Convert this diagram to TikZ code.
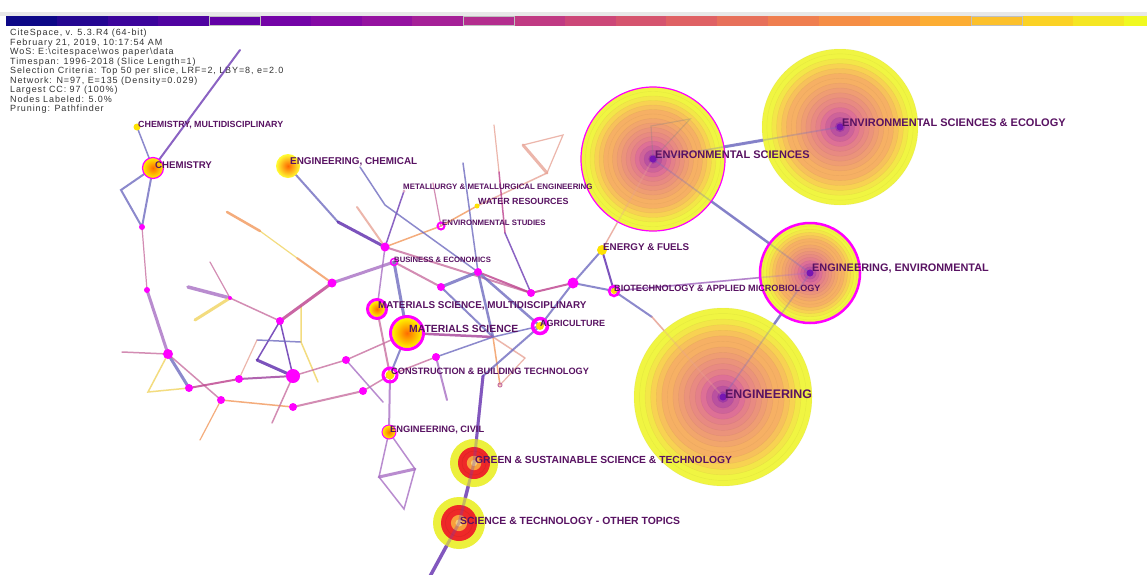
\documentclass[tikz,border=0pt]{standalone}
\usepackage{fontspec}
\setmainfont{Liberation Sans}
\newfontfamily\legendfont[LetterSpace=10]{Liberation Sans}

\definecolor{lblcol}{RGB}{88,18,98}
\definecolor{dotcol}{RGB}{255,0,255}
\definecolor{edpur}{RGB}{110,60,180}
\definecolor{edblu}{RGB}{112,108,192}
\definecolor{edmau}{RGB}{168,112,196}
\definecolor{edpnk}{RGB}{200,112,160}
\definecolor{edmag}{RGB}{188,64,140}
\definecolor{edorg}{RGB}{242,152,92}
\definecolor{edsal}{RGB}{232,164,150}
\definecolor{edyel}{RGB}{240,212,96}
\definecolor{eddk}{RGB}{92,40,172}
% year colours of the time bar
\definecolor{pl0}{RGB}{13,8,135}
\definecolor{pl1}{RGB}{65,4,157}
\definecolor{pl2}{RGB}{106,0,168}
\definecolor{pl3}{RGB}{143,13,164}
\definecolor{pl4}{RGB}{177,42,144}
\definecolor{pl5}{RGB}{204,71,120}
\definecolor{pl6}{RGB}{225,100,98}
\definecolor{pl7}{RGB}{242,132,75}
\definecolor{pl8}{RGB}{252,166,54}
\definecolor{pl9}{RGB}{252,206,37}
\definecolor{pl10}{RGB}{240,249,33}
% tree rings
\definecolor{ryel}{RGB}{240,245,66}
\definecolor{rgld}{RGB}{248,210,82}
\definecolor{rorg}{RGB}{246,176,100}
\definecolor{rpnk}{RGB}{222,112,150}
\definecolor{rpur}{RGB}{118,22,178}
\colorlet{rc0}{ryel}
\colorlet{rc1}{ryel}
\colorlet{rc2}{ryel!60!rgld}
\colorlet{rc3}{rgld}
\colorlet{rc4}{rgld!50!rorg}
\colorlet{rc5}{rorg}
\colorlet{rc6}{rorg}
\colorlet{rc7}{rorg!85!rpnk}
\colorlet{rc8}{rorg!70!rpnk}
\colorlet{rc9}{rorg!55!rpnk}
\colorlet{rc10}{rorg!40!rpnk}
\colorlet{rc11}{rorg!25!rpnk}
\colorlet{rc12}{rpnk}
\colorlet{rc13}{rpnk!85!rpur}
\colorlet{rc14}{rpnk!65!rpur}
\colorlet{rc15}{rpnk!40!rpur}
\definecolor{gyel}{RGB}{236,240,60}
\definecolor{gred}{RGB}{238,40,40}
\definecolor{gorg}{RGB}{248,160,60}
\definecolor{gctr}{RGB}{246,206,120}

\begin{document}
\begin{tikzpicture}[x=1pt,y=-1pt,
    ed/.style={line width=1.5pt, opacity=0.8, line cap=round},
    w1/.style={line width=1.2pt},
    w2/.style={line width=2pt},
    w3/.style={line width=3pt},
    ghost/.style={line width=1.6pt, opacity=0.3},
    lbl/.style={anchor=west, inner sep=0pt, text=lblcol, font=\bfseries\fontsize{#1}{#1}\selectfont}]
  \useasboundingbox (0,0) rectangle (1147,574);
  \fill[white] (0,0) rectangle (1147,574);

  % time bar
  \fill[black!9] (0,12) rectangle (1147,16);
  \foreach \k in {0,...,22}{
    \pgfmathsetmacro\tt{\k*10/22}
    \pgfmathtruncatemacro\ii{floor(\tt)}
    \pgfmathtruncatemacro\jj{min(\ii+1,10)}
    \pgfmathtruncatemacro\ff{round(100*(1-(\tt-\ii)))}
    \fill[fill={pl\ii!\ff!pl\jj}] ({6+\k*50.8},16) rectangle ({6+(\k+1)*50.8},26);
  }
  \foreach \k in {4,9,19}
    \draw[black!25, line width=0.8pt] ({6+\k*50.8},16.5) rectangle ({6+(\k+1)*50.8},25.5);

  \node[anchor=north west, inner sep=0pt, align=left, text=black!80,
        font=\legendfont\fontsize{9}{9.5}\selectfont] (legend) at (10,29)
    {CiteSpace, v. 5.3.R4 (64-bit)\\
     February 21, 2019, 10:17:54 AM\\
     WoS: E:\textbackslash citespace\textbackslash wos paper\textbackslash data\\
     Timespan: 1996-2018 (Slice Length=1)\\
     Selection Criteria: Top 50 per slice, LRF=2, LBY=8, e=2.0\\
     Network: N=97, E=135 (Density=0.029)\\
     Largest CC: 97 (100\%)\\
     Nodes Labeled: 5.0\%\\
     Pruning: Pathfinder};

  % labelled nodes
  \coordinate (envsci) at (653,159);
  \coordinate (envecol) at (840,127);
  \coordinate (engenv) at (810,273);
  \coordinate (eng) at (723,397);
  \coordinate (green) at (474,463);
  \coordinate (scitech) at (459,523);
  \coordinate (matsci) at (407,333);
  \coordinate (matmul) at (377,309);
  \coordinate (chem) at (153,168);
  \coordinate (chemmul) at (137,127);
  \coordinate (engchem) at (288,166);
  \coordinate (metal) at (404,191);
  \coordinate (water) at (477,206);
  \coordinate (envstud) at (441,226);
  \coordinate (busi) at (394,262);
  \coordinate (agri) at (540,326);
  \coordinate (constr) at (390,375);
  \coordinate (civil) at (389,432);
  \coordinate (energy) at (602,250);
  \coordinate (biotech) at (614,291);
  % unlabelled nodes
  \coordinate (a1) at (142,227);
  \coordinate (a2) at (147,290);
  \coordinate (a3) at (168,354);
  \coordinate (a4) at (189,388);
  \coordinate (a5) at (239,379);
  \coordinate (a6) at (293,376);
  \coordinate (a7) at (280,321);
  \coordinate (a8) at (332,283);
  \coordinate (a9) at (385,247);
  \coordinate (a10) at (441,287);
  \coordinate (a11) at (478,272);
  \coordinate (a12) at (531,293);
  \coordinate (a13) at (573,283);
  \coordinate (a14) at (346,360);
  \coordinate (a15) at (363,391);
  \coordinate (a16) at (221,400);
  \coordinate (a17) at (293,407);
  \coordinate (a18) at (436,357);
  \coordinate (a19) at (230,298);
  % small end points
  \coordinate (b1) at (240,50);
  \coordinate (b2) at (121,190);
  \coordinate (b3) at (122,352);
  \coordinate (b4) at (148,392);
  \coordinate (b5) at (257,360);
  \coordinate (b6) at (257,340);
  \coordinate (b7) at (301,342);
  \coordinate (b8) at (301,306);
  \coordinate (b9) at (318,382);
  \coordinate (b11) at (210,262);
  \coordinate (b12) at (195,320);
  \coordinate (b13) at (188,287);
  \coordinate (b14) at (227,212);
  \coordinate (b15) at (260,231);
  \coordinate (b16) at (297,258);
  \coordinate (b17) at (200,440);
  \coordinate (b18) at (272,423);
  \coordinate (b19) at (383,402);
  \coordinate (b20) at (338,222);
  \coordinate (b21) at (360,167);
  \coordinate (b22) at (385,205);
  \coordinate (b23) at (357,207);
  \coordinate (b24) at (433,183);
  \coordinate (b25) at (463,163);
  \coordinate (b26) at (547,173);
  \coordinate (b27) at (523,145);
  \coordinate (b28) at (563,135);
  \coordinate (b29) at (494,125);
  \coordinate (b30) at (499,172);
  \coordinate (b31) at (505,233);
  \coordinate (b32) at (493,337);
  \coordinate (b33) at (500,385);
  \coordinate (b34) at (525,358);
  \coordinate (b35) at (483,376);
  \coordinate (b36) at (447,400);
  \coordinate (b37) at (379,477);
  \coordinate (b38) at (415,469);
  \coordinate (b39) at (404,509);
  \coordinate (b40) at (428,580);
  \coordinate (b41) at (652,317);
  \coordinate (b42) at (651,126);
  \coordinate (b43) at (690,119);

  % links
  \draw[ed, edpur, w2] (b1) -- (chem);
  \draw[ed, edblu] (chemmul) -- (chem);
  \draw[ed, edblu, w2] (chem) -- (b2) -- (a1) -- (chem);
  \draw[ed, edpnk, w1] (a1) -- (a2);
  \draw[ed, edmau, w3] (a2) -- (a3);
  \draw[ed, edblu, w3] (a3) -- (a4);
  \draw[ed, edpnk] (a3) -- (b3);
  \draw[ed, edyel] (a3) -- (b4) -- (a4);
  \draw[ed, edpnk] (a3) -- (a16);
  \draw[ed, edmag, w2] (a4) -- (a5);
  \draw[ed, edmag!60!edpur, w2] (a5) -- (a6);
  \draw[ed, eddk, w3] (a6) -- (b5);
  \draw[ed, eddk] (b5) -- (a7) -- (a6);
  \draw[ed, edblu] (b6) -- (b7);
  \draw[ed, edyel] (b8) -- (b7) -- (b9);
  \draw[ed, edsal, w1] (b6) -- (a5);
  \draw[ed, edpnk] (a6) -- (a14);
  \draw[ed, edorg] (a16) -- (a17);
  \draw[ed, edorg, w1] (a16) -- (b17);
  \draw[ed, edpnk] (a6) -- (b18);
  \draw[ed, edpnk, w2] (a17) -- (a15);
  \draw[ed, edpnk] (a15) -- (constr);
  \draw[ed, edpnk] (a14) -- (matsci);
  \draw[ed, edmau] (a14) -- (b19);
  \draw[ed, edpnk, w1] (a19) -- (b11);
  \draw[ed, edmau, line width=3.5pt] (a19) -- (b13);
  \draw[ed, edyel, w3] (a19) -- (b12);
  \draw[ed, edpnk] (a19) -- (a7);
  \draw[ed, edmag, w3] (a7) -- (a8);
  \draw[ed, edorg, w2] (a8) -- (b16);
  \draw[ed, edyel, w1] (b16) -- (b15);
  \draw[ed, edorg, line width=2.5pt] (b15) -- (b14);
  \draw[ed, edmau, w3] (a8) -- (busi);
  \draw[ed, edblu, w2] (engchem) -- (b20);
  \draw[ed, eddk, w3] (b20) -- (a9);
  \draw[ed, edsal, w2] (b23) -- (a9);
  \draw[ed, edpur] (metal) -- (a9);
  \draw[ed, edmau] (a9) -- (matmul);
  \draw[ed, edorg] (a9) -- (envstud) -- (water);
  \draw[ed, edsal] (water) -- (b26);
  \draw[ed, edsal, w3] (b26) -- (b27);
  \draw[ed, edsal, w1] (b27) -- (b28) -- (b26);
  \draw[ed, edpnk, w1] (b24) -- (envstud);
  \draw[ed, edblu] (b21) -- (b22) -- (a11);
  \draw[ed, edpnk, w2] (a9) -- (a12);
  \draw[ed, edpnk, w2] (busi) -- (a10);
  \draw[ed, edblu, w3] (busi) -- (matsci);
  \draw[ed, edblu, w3] (a10) -- (a11);
  \draw[ed, edblu, w2] (a10) -- (b32);
  \draw[ed, edblu, line width=2.5pt] (a11) -- (b32);
  \draw[ed, edblu] (b25) -- (a11);
  \draw[ed, edsal, w1] (b29) -- (b30);
  \draw[ed, edmag] (b30) -- (b31);
  \draw[ed, edpur] (b31) -- (a12);
  \draw[ed, edmag, w2] (a11) -- (a12) -- (a13);
  \draw[ed, edblu, w2] (a13) -- (energy);
  \draw[ed, edblu, w2] (a13) -- (biotech);
  \draw[ed, eddk, w2] (energy) -- (biotech);
  \draw[ed, edsal, w1] (energy) -- (envsci);
  \draw[ed, edmau] (biotech) -- (engenv);
  \draw[ed, edblu, w2] (biotech) -- (b41);
  \draw[ed, edsal] (b41) -- (eng);
  \draw[ed, edblu, w3] (envsci) -- (envecol);
  \draw[ed, edblu, line width=2.5pt] (envsci) -- (engenv);
  \draw[ed, edblu, line width=2.5pt] (engenv) -- (eng);
  \draw[ed, edmag!70!edpur, line width=2.5pt] (matsci) -- (b32);
  \draw[ed, edorg] (b32) -- (b33);
  \draw[ed, edsal] (b32) -- (b34);
  \draw[ed, edsal, w1] (b33) -- (b34);
  \draw[ed, edblu] (agri) -- (b32);
  \draw[ed, edblu, w2] (agri) -- (a13);
  \draw[ed, edblu, line width=2.5pt] (a11) -- (agri);
  \draw[ed, edblu, w2] (agri) -- (b35);
  \draw[ed, edpur, w3] (b35) -- (green);
  \draw[ed, edpur, line width=3.5pt] (green) -- (scitech) -- (b40);
  \draw[ed, edpnk, w2] (matmul) -- (constr);
  \draw[ed, edblu, w2] (matsci) -- (constr);
  \draw[ed, edmau, w2] (constr) -- (civil);
  \draw[ed, edmau] (civil) -- (b37) -- (b39) -- (b38) -- (civil);
  \draw[ed, edmau, w3] (b37) -- (b38);
  \draw[ed, edpnk] (a18) -- (constr);
  \draw[ed, edmau, w2] (a18) -- (b36);
  \draw[ed, edblu] (a18) -- (b32);

  % tree rings of the large nodes
  \foreach \c/\r in {eng/89, envsci/72, envecol/78, engenv/50}{
    \foreach \k in {0,...,15}
      \filldraw[fill=rc\k, draw=rc\k!75!black, draw opacity=0.18, line width=0.4pt]
        (\c) circle[radius={\r*(16-\k)/16}];
  }
  \draw[dotcol, line width=1.2pt] (envsci) circle[radius=72];
  \draw[dotcol, line width=2.5pt] (engenv) circle[radius=50];
  \foreach \c/\r/\q in {green/24/16, scitech/26/18}{
    \fill[gyel] (\c) circle[radius=\r];
    \fill[gred] (\c) circle[radius=\q];
    \draw[gred!70!black, opacity=0.25, line width=0.5pt] (\c) circle[radius={\q*0.75}];
    \fill[gorg] (\c) circle[radius={\q*0.45}];
    \fill[gctr] (\c) circle[radius={\q*0.2}];
  }
  % links seen through the rings
  \draw[ghost, edblu] (envsci) -- (envecol);
  \draw[ghost, edblu] (envsci) -- (engenv) -- (eng);
  \draw[ghost, edmau] (biotech) -- (engenv);
  \draw[ghost, edsal] (b41) -- (eng);
  \draw[ghost, edsal] (energy) -- (envsci);
  \draw[ghost, black!50, line width=1.2pt] (envsci) -- (b42) -- (b43) -- (envsci);
  \draw[ghost, edpur, line width=3pt] (b35) -- (green) -- (scitech) -- (b40);
  \foreach \c in {envsci, envecol, engenv, eng}
    \fill[rpur] (\c) circle[radius=3.5];

  % small nodes
  \shade[inner color=orange!85!red, outer color=yellow!90!orange] (matsci) circle[radius=15];
  \draw[dotcol, line width=3pt] (matsci) circle[radius=16.5];
  \shade[inner color=orange!85!red, outer color=yellow!90!orange] (matmul) circle[radius=8];
  \draw[dotcol, line width=3pt] (matmul) circle[radius=9.5];
  \shade[inner color=orange!85!red, outer color=yellow!90!orange] (chem) circle[radius=10.5];
  \draw[dotcol, line width=1.2pt] (chem) circle[radius=10.5];
  \shade[inner color=orange!80!red, outer color=yellow!80!white] (engchem) circle[radius=12];
  \fill[yellow!85!orange] (chemmul) circle[radius=3.5];
  \fill[yellow!80!orange] (agri) circle[radius=4];
  \draw[dotcol, line width=3.5pt] (agri) circle[radius=7.5];
  \fill[yellow!80!orange] (constr) circle[radius=4.5];
  \draw[dotcol, line width=3pt] (constr) circle[radius=7];
  \shade[inner color=orange!90!red, outer color=yellow!90!orange] (civil) circle[radius=7];
  \draw[dotcol, line width=1pt] (civil) circle[radius=7];
  \fill[yellow!85!orange] (energy) circle[radius=5];
  \fill[yellow!85!orange] (water) circle[radius=2.5];
  \draw[dotcol, line width=2pt] (envstud) circle[radius=3.5];
  \draw[dotcol, line width=1.5pt] (busi) circle[radius=3.5];
  \fill[yellow!80!orange] (biotech) circle[radius=3];
  \draw[dotcol, line width=2.5pt] (biotech) circle[radius=5];
  \fill[edpnk!60] (metal) circle[radius=1.5];
  \draw[edpnk, line width=1pt] (b33) circle[radius=2];
  \foreach \c/\r in {a1/3, a2/3, a3/5, a4/4, a5/4, a6/7, a7/4, a8/4.5, a9/4.5, a10/4,
                     a11/4, a12/4, a13/5.5, a14/4, a15/4, a16/4, a17/4, a18/4, a19/2}
    \fill[dotcol] (\c) circle[radius=\r];

  % labels
  \node[lbl=11] (envsciL) at (655,155) {ENVIRONMENTAL SCIENCES};
  \node[lbl=11] (envecolL) at (842,123) {ENVIRONMENTAL SCIENCES \& ECOLOGY};
  \node[lbl=10.9] (engenvL) at (812,269) {ENGINEERING, ENVIRONMENTAL};
  \node[lbl=12.4] (engL) at (725,394) {ENGINEERING};
  \node[lbl=10.3] (greenL) at (475,460) {GREEN \& SUSTAINABLE SCIENCE \& TECHNOLOGY};
  \node[lbl=10.4] (scitechL) at (460,521) {SCIENCE \& TECHNOLOGY - OTHER TOPICS};
  \node[lbl=10.4] (matsciL) at (409,329) {MATERIALS SCIENCE};
  \node[lbl=9.9] (matmulL) at (378,306) {MATERIALS SCIENCE, MULTIDISCIPLINARY};
  \node[lbl=9.7] (chemL) at (155,165) {CHEMISTRY};
  \node[lbl=8.9] (chemmulL) at (138,125) {CHEMISTRY, MULTIDISCIPLINARY};
  \node[lbl=9.9] (engchemL) at (290,162) {ENGINEERING, CHEMICAL};
  \node[lbl=7.9] (metalL) at (403,187) {METALLURGY \& METALLURGICAL ENGINEERING};
  \node[lbl=8.9] (waterL) at (478,201) {WATER RESOURCES};
  \node[lbl=7.8] (envstudL) at (442,223) {ENVIRONMENTAL STUDIES};
  \node[lbl=7.7] (busiL) at (394,260) {BUSINESS \& ECONOMICS};
  \node[lbl=9] (agriL) at (540,323) {AGRICULTURE};
  \node[lbl=9.2] (constrL) at (391,371) {CONSTRUCTION \& BUILDING TECHNOLOGY};
  \node[lbl=9.3] (civilL) at (390,430) {ENGINEERING, CIVIL};
  \node[lbl=9.8] (energyL) at (603,247) {ENERGY \& FUELS};
  \node[lbl=9.1] (biotechL) at (614,288) {BIOTECHNOLOGY \& APPLIED MICROBIOLOGY};
\end{tikzpicture}
\end{document}
